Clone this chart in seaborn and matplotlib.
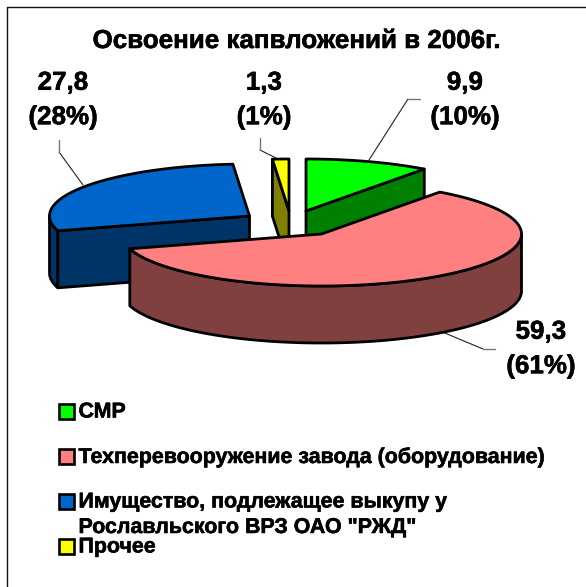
import numpy as np
import matplotlib
matplotlib.use("Agg")
import matplotlib.pyplot as plt
import matplotlib.patheffects as pe
from matplotlib.patches import Polygon, Rectangle
import seaborn as sns

labels = ["СМР", "Техперевооружение завода (оборудование)",
          "Имущество, подлежащее выкупу у\nРославльского ВРЗ ОАО \"РЖД\"", "Прочее"]
values = [9.9, 59.3, 27.8, 1.3]
percents = ["10%", "61%", "28%", "1%"]
colors = ["#00FF00", "#FF8080", "#0066CC", "#FFFF00"]

# exploded slice centres, pixels
apex = [(306, 211), (321.5, 234), (249.5, 216), (289, 211)]
label_pos = [(465, 100), (541, 349), (63, 100), (264, 100)]
leaders = [[(369, 160), (408, 99)],
           [(440, 331), (483, 349)],
           [(83, 185), (59, 152)],
           [(276, 158), (260, 150)]]
tails = [[(408, 99), (420, 99)],
         [(483, 349), (495, 349)],
         [(59, 152), (59, 140)],
         [(260, 150), (260, 138)]]
legend_y = [410.5, 456, 500.5, 545.5]
RX, RY, DEPTH = 200, 52, 57
LW = 2.0

sns.set_theme(style="white")
plt.rcParams['font.family'] = ['Liberation Sans', 'DejaVu Sans']
heavy = [pe.withStroke(linewidth=0.4, foreground="black")]

fig = plt.figure(figsize=(5.86, 5.87), dpi=100)
ax = fig.add_axes([0, 0, 1, 1])
ax.set_xlim(0, 586)
ax.set_ylim(587, 0)
ax.axis("off")

# chart frame, cut off by the image on the right and bottom
ax.plot([6.5, 6.5, 586], [587, 6.5, 6.5], color="#111111", lw=1.0)


def rim(c, t0, t1, drop=0):
    t = np.radians(np.linspace(t0, t1, max(int(abs(t1 - t0)) * 2, 2)))
    return np.column_stack([c[0] + RX * np.sin(t), c[1] - RY * np.cos(t) + drop])


def dark(color):
    return tuple(v / 2 for v in matplotlib.colors.to_rgb(color))


def add(points, color, z):
    ax.add_patch(Polygon(points, closed=True, fc=color, ec="black", lw=LW,
                         joinstyle="round", zorder=z))


edges = np.concatenate([[0], np.cumsum(values)]) / sum(values) * 360
# back to front so the big slice covers the walls behind it
for i in [3, 0, 2, 1]:
    t0, t1 = edges[i], edges[i + 1]
    c = apex[i]
    z = {3: 2, 0: 2, 2: 3, 1: 4}[i]
    side = dark(colors[i])
    lo, hi = max(t0, 90), min(t1, 270)
    if lo < hi:
        add(np.vstack([rim(c, lo, hi), rim(c, hi, lo, DEPTH)]), side, z)
    for t, show in [(t0, np.sin(np.radians(t0)) < -1e-6), (t1, np.sin(np.radians(t1)) > 1e-6)]:
        if show:
            p = rim(c, t, t, 0)[0]
            add([c, p, (p[0], p[1] + DEPTH), (c[0], c[1] + DEPTH)], side, z)
    add(np.vstack([[c], rim(c, t0, t1)]), colors[i], z + 0.5)

for pts, tail in zip(leaders, tails):
    ax.plot(*zip(*pts), color="#222222", lw=0.8, zorder=1)
    ax.plot(*zip(*tail), color="#777777", lw=1.0, zorder=1)

for v, p, pos in zip(values, percents, label_pos):
    ax.text(pos[0], pos[1], f"{v:.1f}".replace(".", ",") + f"\n({p})", ha="center", va="center",
            fontsize=18.7, fontweight="bold", color="black", linespacing=1.55, zorder=6, path_effects=heavy)

ax.text(297, 41, "Освоение капвложений в 2006г.", ha="center", va="center",
        fontsize=18.7, fontweight="bold", color="black", path_effects=heavy)

for y, lab, col in zip(legend_y, labels, colors):
    ax.add_patch(Rectangle((59, y - 7), 15, 15, fc=col, ec="black", lw=1.9))
    ax.text(78.5, y + 1.5, lab.split("\n")[0], ha="left", va="center", fontsize=15.4, fontweight="bold",
            color="black", path_effects=heavy)
    if "\n" in lab:
        ax.text(78.5, y + 27, lab.split("\n")[1], ha="left", va="center", fontsize=15.4, fontweight="bold",
                color="black", path_effects=heavy)

fig.savefig("out.png", dpi=100)
plt.close()
